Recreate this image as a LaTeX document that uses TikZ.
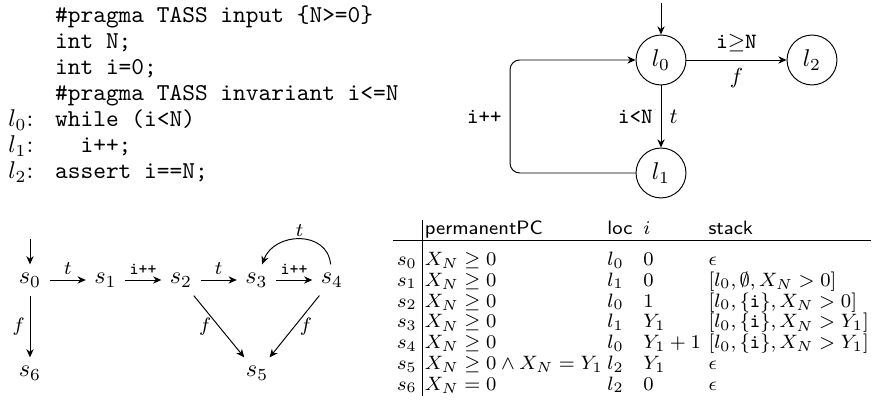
\documentclass[tikz,border=0pt]{standalone}
\usepackage{amsmath,amssymb,array}
\usetikzlibrary{arrows.meta,calc,positioning}

\begin{document}
\begin{tikzpicture}[>={Stealth[length=3.4pt,width=3pt]},
  loc/.style={circle, draw, minimum size=20.6pt, inner sep=0pt},
  lbl/.style={font=\footnotesize, inner sep=2pt}]
  \useasboundingbox (0,0) rectangle (12.779,-5.875);

  % Program
  \node[anchor=north west, inner sep=0pt] (prog) at (0.116,-0.058) {%
    \renewcommand{\arraystretch}{0.894}%
    \begin{tabular}{@{}l@{\hspace{9pt}}l@{}}
      & \texttt{\#pragma TASS input \{N>=0\}}\\
      & \texttt{int N;}\\
      & \texttt{int i=0;}\\
      & \texttt{\#pragma TASS invariant i<=N}\\
      $l_0$: & \texttt{while (i<N)}\\
      $l_1$: & \texttt{\ \ i++;}\\
      $l_2$: & \texttt{assert i==N;}
    \end{tabular}};

  % Control flow graph
  \node[loc] (l0) at (9.588,-0.870) {$l_0$};
  \node[loc] (l2) at (11.778,-0.870) {$l_2$};
  \node[loc] (l1) at (9.588,-2.509) {$l_1$};
  \coordinate (l0in) at (9.588,-0.044);
  \coordinate (loopx) at (7.398,-1.7);
  \draw[->] (l0in) -- (l0);
  \draw[->] (l0) -- node[above]{\small\texttt{i}$\geq$\texttt{N}} node[below]{\small$f$} (l2);
  \draw[->] (l0) -- node[left]{\small\texttt{i<N}} node[right]{\small$t$} (l1);
  \draw[->, rounded corners] (l1.west) -- (l1.west -| loopx)
    -- node[left]{\small\texttt{i++}} (l0.west -| loopx) -- (l0.west);

  % Symbolic execution
  \foreach \i in {0,...,4}
    \node (s\i) at ({0.435+1.095*\i},-4.061) {$s_\i$};
  \node (s5) at (3.728,-5.410) {$s_5$};
  \node (s6) at (0.435,-5.410) {$s_6$};
  \coordinate (s0in) at (0.435,-3.467);
  \draw[->] (s0in) -- (s0);
  \draw[->] (s0) -- node[lbl,above]{$t$} (s1);
  \draw[->] (s1) -- node[lbl,above]{\scriptsize\texttt{i++}} (s2);
  \draw[->] (s2) -- node[lbl,above]{$t$} (s3);
  \draw[->] (s3) -- node[lbl,above]{\scriptsize\texttt{i++}} (s4);
  \draw[->] (s4) to[out=95,in=70,looseness=1.3] node[lbl,above,inner sep=1pt]{$t$} (s3);
  \draw[->] (s0) -- node[lbl,left]{$f$} (s6);
  \draw[->] (s2) -- node[lbl,left,inner sep=3pt]{$f$} (s5);
  \draw[->] (s4) -- node[lbl,right]{$f$} (s5);

  % States
  \node[anchor=north west, inner sep=0pt] (states) at (5.700,-3.177) {%
    \fontsize{8.5}{10}\selectfont\renewcommand{\arraystretch}{0.77}%
    \setlength{\extrarowheight}{1.14pt}%
    \begin{tabular}{@{\hspace{1.5pt}}l@{\hspace{2pt}}|@{\hspace{1pt}}l@{\hspace{2pt}}l@{\hspace{4.5pt}}l@{\hspace{3.2pt}}l@{\hspace{1pt}}}
      & \footnotesize\textsf{permanentPC} & \footnotesize\textsf{loc} & $i$ & \footnotesize\textsf{stack}\\ \hline
      \rule{0pt}{10pt}$s_0$ & $X_N \geq 0$ & $l_0$ & $0$ & $\epsilon$\\
      $s_1$ & $X_N \geq 0$ & $l_1$ & $0$ & $[l_0, \emptyset, X_N > 0]$\\
      $s_2$ & $X_N \geq 0$ & $l_0$ & $1$ & $[l_0, \{\mathtt{i}\}, X_N > 0]$\\
      $s_3$ & $X_N \geq 0$ & $l_1$ & $Y_1$ & $[l_0, \{\mathtt{i}\}, X_N > Y_1]$\\
      $s_4$ & $X_N \geq 0$ & $l_0$ & $Y_1+1$ & $[l_0, \{\mathtt{i}\}, X_N > Y_1]$\\
      $s_5$ & $X_N \geq 0 \wedge X_N = Y_1$ & $l_2$ & $Y_1$ & $\epsilon$\\
      $s_6$ & $X_N = 0$ & $l_2$ & $0$ & $\epsilon$
    \end{tabular}};
\end{tikzpicture}
\end{document}
